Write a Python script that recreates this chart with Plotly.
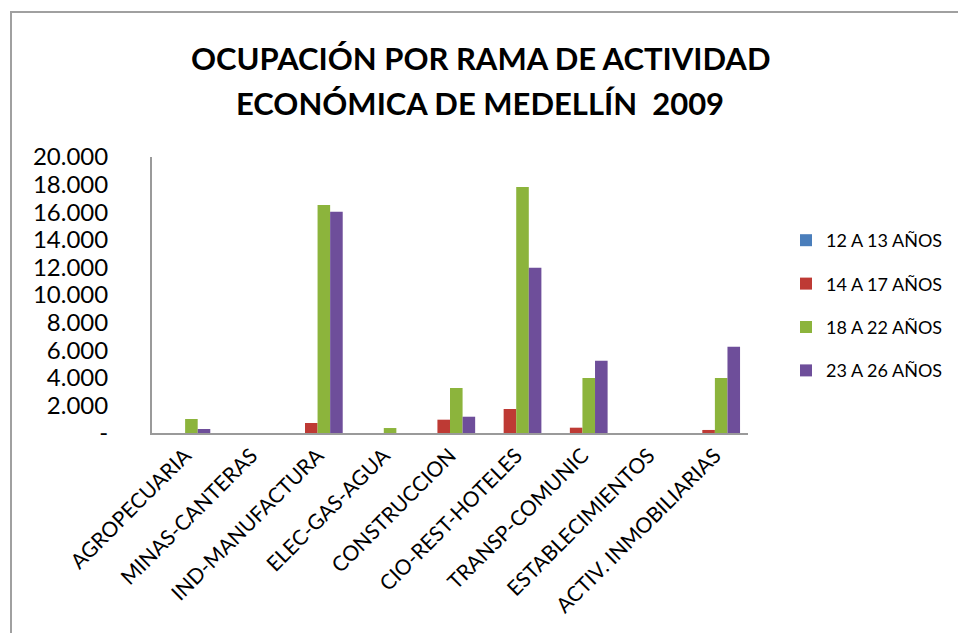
import plotly.graph_objects as go

categories = ["AGROPECUARIA", "MINAS-CANTERAS", "IND-MANUFACTURA", "ELEC-GAS-AGUA",
              "CONSTRUCCION", "CIO-REST-HOTELES", "TRANSP-COMUNIC",
              "ESTABLECIMIENTOS", "ACTIV. INMOBILIARIAS"]
series_names = ["12 A 13 AÑOS", "14 A 17 AÑOS", "18 A 22 AÑOS", "23 A 26 AÑOS"]
v_12_13 = [0, 0, 0, 0, 0, 0, 0, 0, 0]
v_14_17 = [0, 0, 725, 0, 965, 1740, 385, 0, 220]
v_18_22 = [1015, 0, 16520, 360, 3260, 17830, 3985, 0, 3985]
v_23_26 = [290, 0, 16040, 0, 1180, 11980, 5240, 0, 6250]
tick_vals = [0, 2000, 4000, 6000, 8000, 10000, 12000, 14000, 16000, 18000, 20000]
tick_text = ["-", "2.000", "4.000", "6.000", "8.000", "10.000", "12.000",
             "14.000", "16.000", "18.000", "20.000"]
title_lines = ["OCUPACIÓN POR RAMA DE ACTIVIDAD", "ECONÓMICA DE MEDELLÍN  2009"]

colors = ["#4A7EBB", "#BE3A34", "#8CB43C", "#6E4E9A"]
all_vals = [v_12_13, v_14_17, v_18_22, v_23_26]

FONT = "Lato"
fig = go.Figure()
for name, vals, c in zip(series_names, all_vals, colors):
    fig.add_trace(go.Bar(x=categories, y=vals, name=name, legendgroup=name,
                         marker=dict(color=c, line=dict(width=0))))

W, H = 958, 633
L, R, T, B = 152, 210, 157, 200
pw, ph = W - L - R, H - T - B

def px_x(x):
    return (x - L) / pw

def px_y(y):
    return (H - B - y) / ph

annotations = []
for line, yc in zip(title_lines, [58, 103]):
    annotations.append(dict(text="<b>" + line + "</b>", xref="paper", yref="paper",
                            x=px_x(480), y=px_y(yc), xanchor="center", yanchor="middle",
                            showarrow=False, font=dict(size=31, family=FONT, color="black")))

fig.update_layout(
    width=W, height=H,
    margin=dict(l=L, r=R, t=T, b=B, autoexpand=False),
    paper_bgcolor="white", plot_bgcolor="white",
    font=dict(family=FONT, color="black"),
    annotations=annotations,
    barmode="group", bargap=0.24, bargroupgap=0,
    showlegend=True,
    legend=dict(x=px_x(786), y=px_y(222), xanchor="left", yanchor="top",
                font=dict(size=18, family=FONT), tracegroupgap=17,
                bgcolor="rgba(0,0,0,0)"),
    xaxis=dict(showline=True, linecolor="#9a9a9a", linewidth=2, ticks="",
               tickangle=-45, tickfont=dict(size=21, family=FONT), showgrid=False),
    yaxis=dict(range=[0, 20000], tickvals=tick_vals, ticktext=tick_text,
               showline=True, linecolor="#9a9a9a", linewidth=2, ticks="",
               showgrid=False, zeroline=False, ticklabelstandoff=37,
               tickfont=dict(size=24, family=FONT)),
    shapes=[dict(type="rect", xref="paper", yref="paper",
                 x0=px_x(11), x1=px_x(980), y0=px_y(660), y1=px_y(12),
                 line=dict(color="#a0a0a0", width=2), fillcolor="rgba(0,0,0,0)",
                 layer="below")],
)

fig.write_html("out.html", config={"displayModeBar": False},
               post_script="document.body.style.margin='0';")
